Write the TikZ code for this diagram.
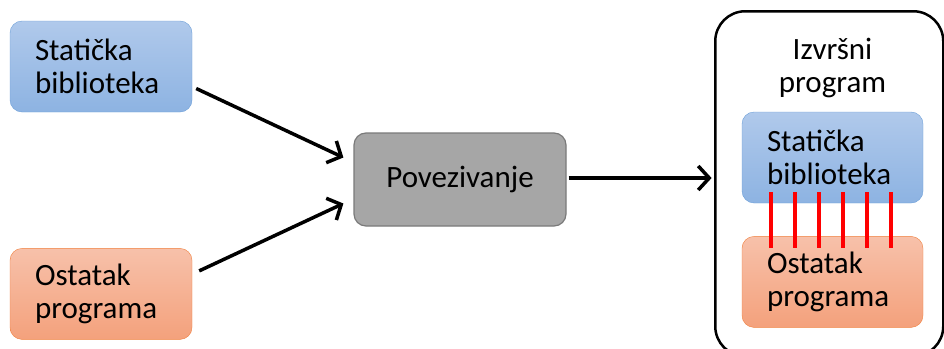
\documentclass[tikz,border=0pt]{standalone}
\usepackage{fontspec}
\setmainfont{Carlito}
\usepackage{tikz}
\usetikzlibrary{arrows.meta,positioning,calc}
\definecolor{libtop}{RGB}{176,201,235}
\definecolor{libbot}{RGB}{141,179,226}
\definecolor{libline}{RGB}{108,159,216}
\definecolor{resttop}{RGB}{247,193,170}
\definecolor{restbot}{RGB}{244,161,124}
\definecolor{restline}{RGB}{240,128,62}
\definecolor{linkfill}{RGB}{166,166,166}
\definecolor{linkline}{RGB}{122,122,122}

\begin{document}
\begin{tikzpicture}[
    x=1pt, y=-1pt,
    node distance=136pt,
    txt/.style={font=\fontsize{31}{33}\selectfont},
    part/.style={rectangle, rounded corners=12pt, txt, align=left,
                 inner xsep=25pt, inner ysep=0pt, minimum height=91pt},
    libbox/.style={part, draw=libline, top color=libtop, bottom color=libbot},
    restbox/.style={part, draw=restline, top color=resttop, bottom color=restbot},
    arrow/.style={-{Straight Barb[length=11pt, width=24pt, line width=3.5pt]}, line width=3.5pt},
    glue/.style={draw=red, line width=3.5pt},
]
\useasboundingbox (0,0) rectangle (944,348);
\clip (0,0) rectangle (944,348);

% Inputs
\node[libbox, text width=132pt] (lib) at (101,66.5) {Statička\\biblioteka};
\node[restbox, text width=132pt, below=136pt of lib] (rest) {Ostatak\\programa};

% Linker
\node[rectangle, rounded corners=12pt, draw=linkline, fill=linkfill, line width=1.2pt,
      minimum width=212pt, minimum height=93pt, txt] (link) at (460,179.5) {Povezivanje};

% Executable
\node[draw, line width=2.5pt, rounded corners=30pt, minimum width=228pt,
      minimum height=345pt, anchor=north west] (exe) at (714,10) {};
\node[txt, align=center] (title) at (832.5,68) {Izvršni\\program};
\node[libbox, text width=131pt] (lib2) at (832.5,157.5) {Statička\\biblioteka};
\node[restbox, text width=131pt, below=33pt of lib2] (rest2) {Ostatak\\programa};

% Glue between the two parts
\foreach \dx in {29,53,77,101,125,149}
    \draw[glue] ($(lib2.south west)+(\dx,-11)$) -- ($(rest2.north west)+(\dx,12)$);

% Arrows
\draw[arrow] ($(lib.east)+(4,22)$) -- ($(link.west)+(-10,-22)$);
\draw[arrow] ($(rest.east)+(7,-23)$) -- ($(link.west)+(-10,24)$);
\draw[arrow] ($(link.east)+(2,-1.5)$) -- ($(link.east)+(145,-1.5)$) coordinate (into);

\end{tikzpicture}
\end{document}
